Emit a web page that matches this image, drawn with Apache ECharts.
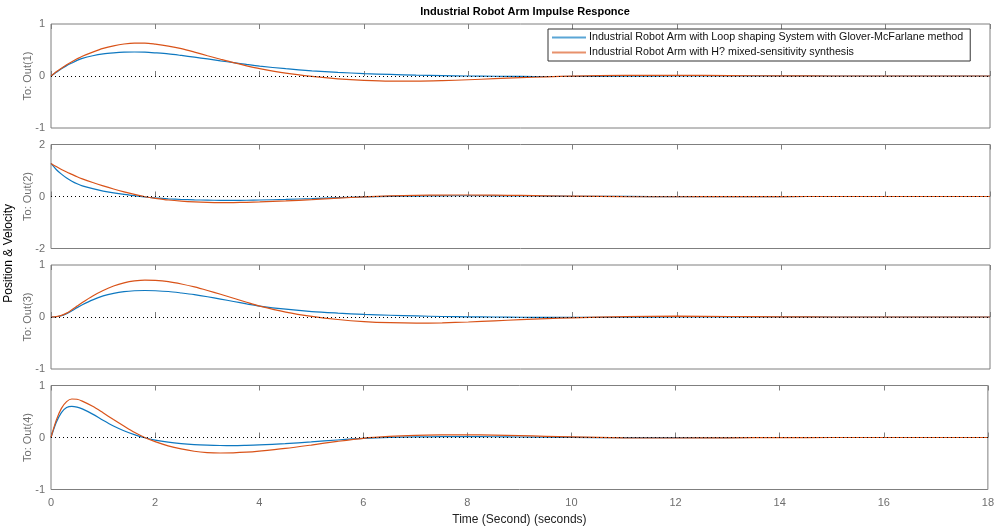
<!DOCTYPE html>
<html>
<head>
<meta charset="utf-8">
<script src="https://cdn.jsdelivr.net/npm/echarts@6/dist/echarts.min.js"></script>
<style>html,body{margin:0;padding:0;background:#fff;}#chart{width:997px;height:529px;}</style>
</head>
<body>
<div id="chart"></div>
<script>
// ---- data ----
const time = [0,0.1,0.2,0.3,0.4,0.5,0.6,0.8,1,1.2,1.4,1.6,1.8,2,2.25,2.5,2.75,3,3.25,3.5,3.75,4,4.5,5,5.5,6,6.5,7,7.5,8,8.5,9,9.5,10,11,12,13,14,15,16,17,18];
const seriesNames = ["Industrial Robot Arm with Loop shaping System with Glover-McFarlane method","Industrial Robot Arm with H? mixed-sensitivity synthesis"];
const outLabels = ["To: Out(1)","To: Out(2)","To: Out(3)","To: Out(4)"];
const yRanges = [[-1,1],[-2,2],[-1,1],[-1,1]];
const xTicks = [0,2,4,6,8,10,12,14,16,18];

const out1Glover = [0,0.07,0.14,0.20,0.25,0.30,0.34,0.39,0.425,0.445,0.458,0.462,0.458,0.445,0.425,0.395,0.362,0.328,0.292,0.257,0.222,0.19,0.14,0.10,0.07,0.046,0.03,0.017,0.007,0,-0.005,-0.008,-0.01,-0.009,-0.005,0,0.003,0.002,0,0,0,0];
const out1Hinf   = [0,0.08,0.15,0.215,0.275,0.33,0.38,0.46,0.53,0.58,0.615,0.632,0.632,0.612,0.575,0.525,0.46,0.39,0.322,0.256,0.196,0.142,0.055,-0.008,-0.055,-0.085,-0.10,-0.10,-0.09,-0.072,-0.052,-0.033,-0.016,-0.003,0.012,0.014,0.008,0.002,0,0,0,0];
const out2Glover = [1.27,1.04,0.86,0.71,0.59,0.49,0.41,0.30,0.21,0.14,0.08,0.03,-0.02,-0.055,-0.09,-0.115,-0.13,-0.14,-0.147,-0.148,-0.145,-0.135,-0.112,-0.08,-0.045,-0.015,0.005,0.018,0.026,0.029,0.027,0.022,0.015,0.009,0.001,-0.004,-0.004,-0.001,0,0,0,0];
const out2Hinf   = [1.27,1.15,1.04,0.94,0.85,0.76,0.68,0.54,0.41,0.29,0.18,0.08,-0.01,-0.07,-0.135,-0.18,-0.21,-0.228,-0.235,-0.233,-0.225,-0.21,-0.17,-0.12,-0.065,-0.015,0.022,0.045,0.056,0.058,0.052,0.04,0.026,0.012,-0.006,-0.01,-0.006,-0.002,0,0,0,0];
const out3Glover = [0,0.005,0.025,0.065,0.12,0.18,0.235,0.33,0.405,0.455,0.488,0.505,0.51,0.505,0.49,0.462,0.43,0.39,0.345,0.298,0.252,0.21,0.15,0.105,0.075,0.05,0.034,0.02,0.01,0.004,0,-0.005,-0.008,-0.009,-0.005,0,0.003,0.002,0,0,0,0];
const out3Hinf   = [0,0.006,0.03,0.075,0.14,0.21,0.28,0.405,0.51,0.595,0.655,0.693,0.71,0.705,0.68,0.635,0.578,0.51,0.437,0.36,0.283,0.21,0.095,0.012,-0.048,-0.088,-0.11,-0.118,-0.112,-0.096,-0.074,-0.052,-0.032,-0.015,0.008,0.016,0.01,0.004,0,0,0,0];
const out4Glover = [0,0.29,0.48,0.575,0.60,0.585,0.55,0.45,0.33,0.22,0.13,0.055,-0.005,-0.05,-0.09,-0.118,-0.137,-0.148,-0.154,-0.155,-0.15,-0.142,-0.118,-0.085,-0.048,-0.017,0.002,0.011,0.015,0.016,0.014,0.01,0.005,0.001,-0.004,-0.004,-0.001,0,0,0,0,0];
const out4Hinf   = [0,0.33,0.56,0.69,0.74,0.735,0.70,0.60,0.475,0.345,0.22,0.1,0.0,-0.08,-0.16,-0.22,-0.265,-0.29,-0.298,-0.295,-0.283,-0.262,-0.21,-0.145,-0.075,-0.015,0.02,0.04,0.049,0.051,0.046,0.036,0.023,0.011,-0.006,-0.01,-0.006,-0.002,0,0,0,0];

const gloverData = [out1Glover,out2Glover,out3Glover,out4Glover];
const hinfData = [out1Hinf,out2Hinf,out3Hinf,out4Hinf];

// ---- layout ----
const FONT = 'Liberation Sans, Arial, Helvetica, sans-serif';
const BLUE = '#0e78c0', ORANGE = '#D95319', AXIS = '#7f7f7f', LABEL = '#6e6e6e';
const tops = [24, 144.5, 265, 385.5];
const H = 104;

const zip = arr => time.map((t,i)=>[t,arr[i]]);

const grids = [], xAxes = [], yAxes = [], series = [];
for (let g = 0; g < 4; g++) {
  grids.push({left:51, right:7, top:tops[g], height:H, show:true, borderColor:AXIS, borderWidth:1, backgroundColor:'#fff'});
  const last = g === 3;
  xAxes.push({
    gridIndex:g, type:'value', min:0, max:18, interval:2, position:'bottom',
    axisLine:{show:false}, splitLine:{show:false},
    axisTick:{show:true, inside:true, length:5, lineStyle:{color:AXIS}},
    axisLabel:{show:last, color:LABEL, fontSize:11, fontFamily:FONT, margin:8},
    name: last ? 'Time (Second) (seconds)' : '', nameLocation:'middle', nameGap:24,
    nameTextStyle:{color:'#222', fontSize:12, fontFamily:FONT}
  });
  xAxes.push({
    gridIndex:g, type:'value', min:0, max:18, interval:2, position:'top',
    axisLine:{show:false}, splitLine:{show:false}, axisLabel:{show:false},
    axisTick:{show:true, inside:true, length:5, lineStyle:{color:AXIS}}
  });
  yAxes.push({
    gridIndex:g, type:'value', min:yRanges[g][0], max:yRanges[g][1], interval:yRanges[g][1],
    axisLine:{show:false}, splitLine:{show:false},
    axisTick:{show:false},
    axisLabel:{color:LABEL, fontSize:11, fontFamily:FONT, margin:6},
    name:outLabels[g], nameLocation:'middle', nameGap:18, nameRotate:90, nameMoveOverlap:false,
    nameTextStyle:{color:LABEL, fontSize:11, fontFamily:FONT}
  });
  series.push({
    name:seriesNames[0], type:'line', xAxisIndex:2*g, yAxisIndex:g, data:zip(gloverData[g]),
    showSymbol:false, smooth:0.3, color:BLUE, lineStyle:{color:BLUE, width:1.2}, itemStyle:{color:BLUE}, z:3,
    markLine:{silent:true, symbol:'none', label:{show:false}, animation:false,
      lineStyle:{color:'#000', type:[1,3], width:1}, data:[{yAxis:0}]}
  });
  series.push({
    name:seriesNames[1], type:'line', xAxisIndex:2*g, yAxisIndex:g, data:zip(hinfData[g]),
    showSymbol:false, smooth:0.3, color:ORANGE, lineStyle:{color:ORANGE, width:1.2}, itemStyle:{color:ORANGE}, z:4
  });
}

const chart = echarts.init(document.getElementById('chart'), null, {renderer:'canvas'});
chart.setOption({
  backgroundColor:'#fff',
  animation:false,
  title:{text:'Industrial Robot Arm Impulse Responce', left:520, textAlign:'center', top:1,
    textStyle:{fontSize:11, fontWeight:'bold', color:'#000', fontFamily:FONT}},
  legend:{
    data:[{name:seriesNames[0], itemStyle:{color:'#5aa6d6', borderWidth:0}}, {name:seriesNames[1], itemStyle:{color:'#e8916c', borderWidth:0}}],
    orient:'vertical', left:548, top:29,
    backgroundColor:'#fff', borderColor:'#333', borderWidth:1, padding:[3,7,3,4],
    itemGap:4, itemWidth:34, itemHeight:2, icon:'rect',
    itemStyle:{borderWidth:0},
    textStyle:{fontSize:10.7, fontFamily:FONT, color:'#111', padding:[0,0,0,-2]}
  },
  graphic:[{type:'text', left:3, top:204, rotation:Math.PI/2,
    style:{text:'Position & Velocity', fontSize:12, fontFamily:FONT, fill:'#000'}}],
  grid:grids, xAxis:xAxes, yAxis:yAxes, series:series
});
</script>
</body>
</html>
